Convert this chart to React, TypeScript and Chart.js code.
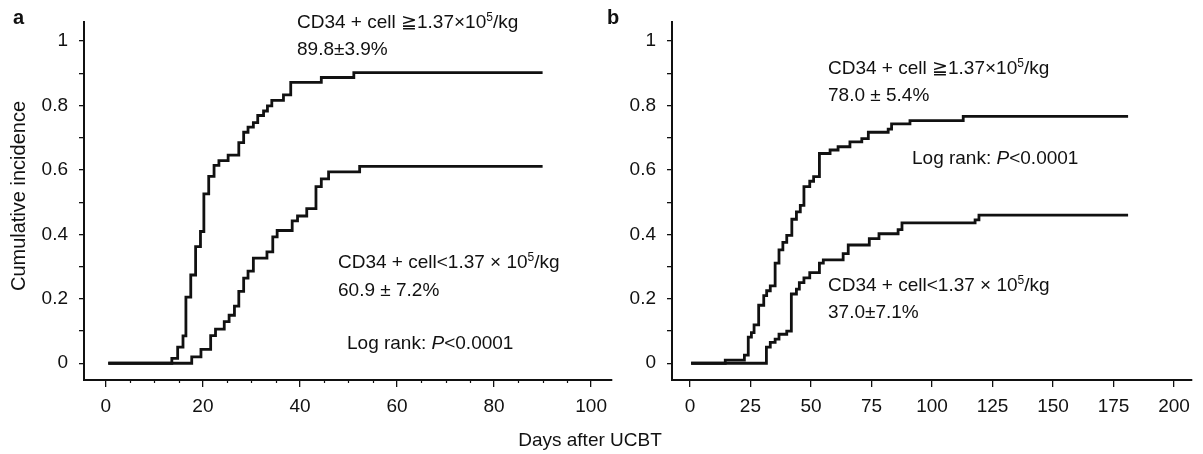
import React, { useEffect, useRef } from 'react';
import { Chart, registerables } from 'chart.js';
Chart.register(...registerables);

// Panel a: days after UCBT and cumulative incidence
const aHighDays = [0.5, 13.6, 14.8, 15.9, 16.5, 17.5, 18.5, 19.5, 20.2, 21.2, 22.3, 23.3, 25.2, 27.4, 28.4, 29.3, 30.4, 31.3, 32.5, 33.3, 34.2, 36.6, 38.1, 44.4, 51.1, 90];
const aHighVals = [0, 0.015, 0.05, 0.085, 0.205, 0.274, 0.362, 0.409, 0.526, 0.58, 0.614, 0.629, 0.646, 0.685, 0.717, 0.733, 0.747, 0.769, 0.783, 0.799, 0.816, 0.833, 0.872, 0.887, 0.902, 0.902];
const aLowDays = [0.5, 17.7, 19.6, 21.6, 22.6, 24.4, 25.4, 26.5, 27.4, 28.4, 29.3, 30.4, 33.2, 34.4, 35.3, 38.4, 39.5, 41.4, 43.3, 44.4, 45.9, 52.3, 90];
const aLowVals = [0, 0.02, 0.043, 0.086, 0.106, 0.129, 0.149, 0.177, 0.223, 0.264, 0.286, 0.326, 0.346, 0.392, 0.412, 0.442, 0.457, 0.48, 0.548, 0.572, 0.594, 0.611, 0.611];

// Panel b
const bHighDays = [0.5, 14.6, 22.5, 24.1, 25.4, 26.5, 28.4, 30.5, 31.7, 33.2, 35.2, 36.8, 38.4, 40, 42.1, 44, 45.6, 47.1, 49.5, 51.1, 53.5, 57.9, 61.2, 66.1, 71, 73.7, 81.9, 83.3, 90.9, 112.9, 181];
const bHighVals = [0, 0.01, 0.025, 0.081, 0.095, 0.119, 0.18, 0.21, 0.225, 0.24, 0.311, 0.352, 0.375, 0.397, 0.447, 0.47, 0.49, 0.548, 0.565, 0.579, 0.651, 0.662, 0.672, 0.687, 0.697, 0.717, 0.727, 0.743, 0.753, 0.766, 0.766];
const bLowDays = [0.5, 31.6, 33.2, 35.2, 36.8, 40, 41.9, 44, 45.2, 47.1, 49.5, 53.5, 55.1, 63.3, 65.4, 74.1, 78.1, 86, 87.6, 117.8, 119.4, 181];
const bLowVals = [0, 0.05, 0.065, 0.075, 0.09, 0.1, 0.215, 0.23, 0.25, 0.265, 0.281, 0.311, 0.321, 0.34, 0.367, 0.387, 0.402, 0.415, 0.436, 0.445, 0.46, 0.46];

const yTickValues = [0, 0.2, 0.4, 0.6, 0.8, 1];
const aXTicks = [0, 20, 40, 60, 80, 100];
const bXTicks = [0, 25, 50, 75, 100, 125, 150, 175, 200];

const FONT = '"Liberation Sans", Arial, Helvetica, sans-serif';
const INK = '#111';

const toPts = (xs: number[], ys: number[]) => xs.map((x, i) => ({ x, y: ys[i] }));

const minorTicks = {
  id: 'minorTicks',
  afterDraw(chart: any, _args: any, opts: any) {
    if (!opts || !opts.step) return;
    const xs = chart.scales.x;
    const ctx = chart.ctx;
    ctx.save();
    ctx.strokeStyle = INK;
    ctx.lineWidth = 1.2;
    for (let v = Math.ceil(xs.min / opts.step) * opts.step; v <= xs.max + 1e-9; v += opts.step) {
      if (Math.abs(v % opts.major) < 1e-6) continue;
      const px = Math.round(xs.getPixelForValue(v)) + 0.5;
      ctx.beginPath();
      ctx.moveTo(px, xs.top);
      ctx.lineTo(px, xs.top + opts.len);
      ctx.stroke();
    }
    ctx.restore();
  },
};

function makeConfig(
  high: { x: number; y: number }[],
  low: { x: number; y: number }[],
  xMin: number,
  xMax: number,
  xStep: number,
  xTicks: number[],
  yWidth: number,
  padRight: number,
  minorStep: number
): any {
  return {
    type: 'line',
    data: {
      datasets: [
        { data: high, borderColor: INK, borderWidth: 2.8, stepped: true, pointRadius: 0, fill: false },
        { data: low, borderColor: INK, borderWidth: 2.8, stepped: true, pointRadius: 0, fill: false },
      ],
    },
    options: {
      animation: false,
      responsive: false,
      maintainAspectRatio: false,
      layout: { padding: { top: 13, right: padRight, left: 0, bottom: 0 } },
      plugins: {
        legend: { display: false },
        tooltip: { enabled: false },
        minorTicks: { step: minorStep, major: xStep, len: 3 },
      },
      scales: {
        x: {
          type: 'linear',
          min: xMin,
          max: xMax,
          afterFit: (s: any) => { s.height = 74; },
          border: { display: true, color: INK, width: 2 },
          grid: { display: true, drawOnChartArea: false, drawTicks: true, tickLength: 7, color: INK, lineWidth: 1.3 },
          ticks: {
            stepSize: xStep,
            includeBounds: false,
            color: INK,
            padding: 8,
            maxRotation: 0,
            autoSkip: false,
            font: { family: FONT, size: 19 },
            callback: (v: number) => (xTicks.includes(Math.round(v)) ? String(Math.round(v)) : ''),
          },
        },
        y: {
          type: 'linear',
          min: -0.052,
          max: 1.058,
          afterFit: (s: any) => { s.width = yWidth; },
          border: { display: true, color: INK, width: 2 },
          grid: { display: true, drawOnChartArea: false, drawTicks: true, tickLength: 5, color: INK, lineWidth: 1.3 },
          ticks: {
            stepSize: 0.1,
            includeBounds: false,
            color: INK,
            padding: 11,
            autoSkip: false,
            font: { family: FONT, size: 19 },
            callback: (v: number) => {
              const r = Math.round(v * 10) / 10;
              return yTickValues.some((t) => Math.abs(t - r) < 1e-6) ? String(r) : '';
            },
          },
        },
      },
    },
    plugins: [minorTicks],
  };
}

const txt = (left: number, top: number, size = 19): React.CSSProperties => ({
  position: 'absolute',
  left,
  top,
  fontFamily: FONT,
  fontSize: size,
  lineHeight: '22px',
  color: INK,
  whiteSpace: 'nowrap',
});

const Sup = () => <span style={{ fontSize: 12, verticalAlign: 7, lineHeight: 0 }}>5</span>;

export default function App() {
  const refA = useRef<HTMLCanvasElement>(null);
  const refB = useRef<HTMLCanvasElement>(null);

  useEffect(() => {
    const ca = new Chart(
      refA.current as HTMLCanvasElement,
      makeConfig(toPts(aHighDays, aHighVals), toPts(aLowDays, aLowVals), -4.5, 104.3, 20, aXTicks, 84, 8, 5)
    );
    const cb = new Chart(
      refB.current as HTMLCanvasElement,
      makeConfig(toPts(bHighDays, bHighVals), toPts(bLowDays, bLowVals), -7.4, 207.4, 25, bXTicks, 72, 11, 0)
    );
    return () => {
      ca.destroy();
      cb.destroy();
    };
  }, []);

  return (
    <div style={{ position: 'absolute', left: 0, top: 0, width: 1203, height: 454, background: '#fff', overflow: 'hidden' }}>
      <div style={{ position: 'absolute', left: 0, top: 0, width: 620, height: 454 }}>
        <canvas ref={refA} width={620} height={454} style={{ width: 620, height: 454 }} />
      </div>
      <div style={{ position: 'absolute', left: 600, top: 0, width: 603, height: 454 }}>
        <canvas ref={refB} width={603} height={454} style={{ width: 603, height: 454 }} />
      </div>

      <div style={{ ...txt(13, 6, 20), fontWeight: 'bold' }}>a</div>
      <div style={{ ...txt(607, 6, 20), fontWeight: 'bold' }}>b</div>

      <div
        style={{
          ...txt(0, 0, 20),
          left: 18,
          top: 196,
          transform: 'translate(-50%, -50%) rotate(-90deg)',
        }}
      >
        Cumulative incidence
      </div>
      <div style={{ ...txt(0, 0, 19), left: 590, top: 440, transform: 'translate(-50%, -50%)' }}>Days after UCBT</div>

      <div style={txt(297, 11)}>CD34 + cell ≧1.37×10<Sup />/kg</div>
      <div style={txt(297, 38)}>89.8±3.9%</div>
      <div style={txt(338, 251)}>CD34 + cell&lt;1.37 × 10<Sup />/kg</div>
      <div style={txt(338, 279)}>60.9 ± 7.2%</div>
      <div style={txt(347, 332)}>
        Log rank: <i>P</i>&lt;0.0001
      </div>

      <div style={txt(828, 57)}>CD34 + cell ≧1.37×10<Sup />/kg</div>
      <div style={txt(828, 84)}>78.0 ± 5.4%</div>
      <div style={txt(912, 147)}>
        Log rank: <i>P</i>&lt;0.0001
      </div>
      <div style={txt(828, 274)}>CD34 + cell&lt;1.37 × 10<Sup />/kg</div>
      <div style={txt(828, 301)}>37.0±7.1%</div>
    </div>
  );
}
